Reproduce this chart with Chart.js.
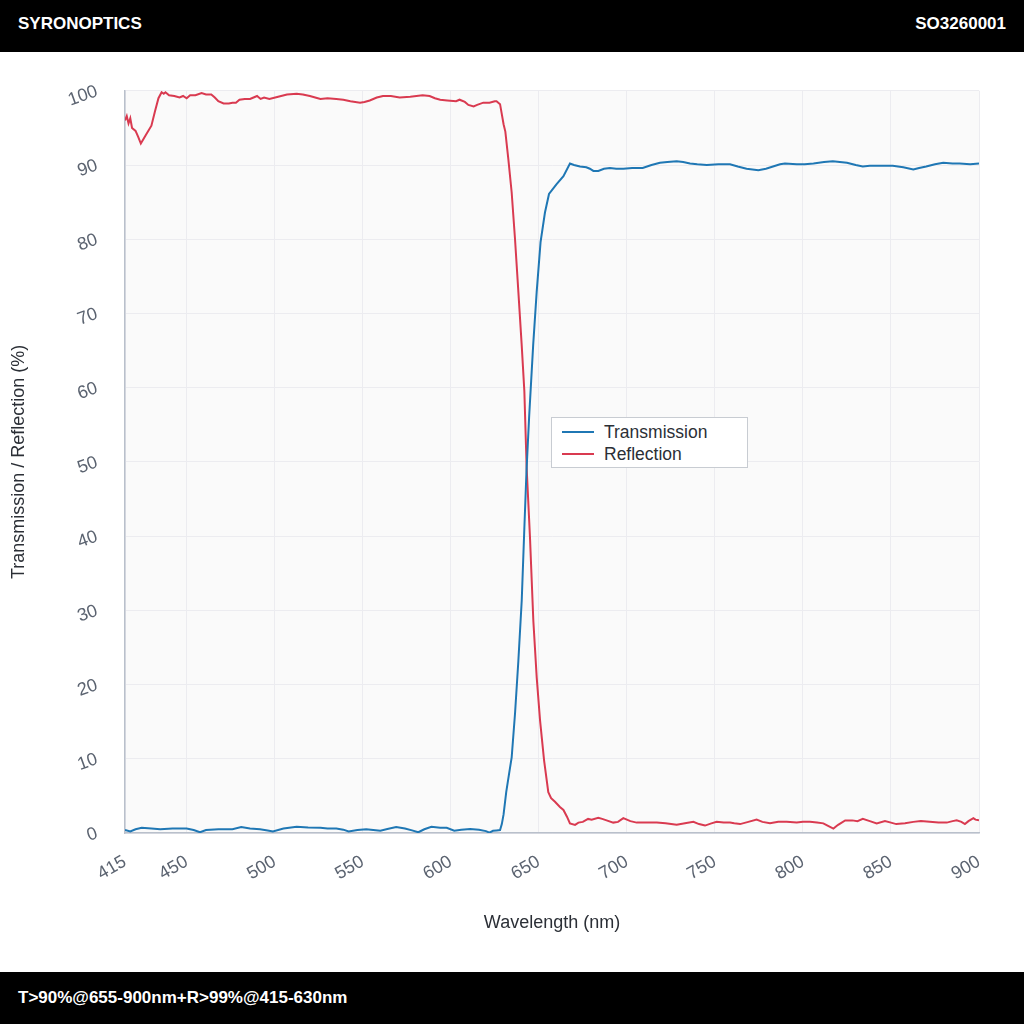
<!DOCTYPE html>
<html lang="en">
<head>
    <meta charset="UTF-8">
    <title>SYRONOPTICS SO3260001</title>
    <script src="https://cdn.jsdelivr.net/npm/chart.js"></script>
    <style>
        html, body {
            margin: 0;
            padding: 0;
            width: 1024px;
            height: 1024px;
            background: #fff;
            font-family: "Liberation Sans", Arial, sans-serif;
            overflow: hidden;
        }
        .bar {
            position: absolute;
            left: 0;
            width: 1024px;
            height: 52px;
            background: #000;
            color: #fff;
            font-weight: bold;
            font-size: 17px;
        }
        #header { top: 0; line-height: 47px; }
        #footer { top: 972px; line-height: 52px; }
        .bar .l { position: absolute; left: 18px; }
        .bar .r { position: absolute; right: 18px; }
        #chartBox {
            position: absolute;
            left: 0;
            top: 52px;
            width: 1024px;
            height: 920px;
        }
        #legend {
            position: absolute;
            left: 551px;
            top: 417px;
            width: 195px;
            height: 49px;
            background: #fff;
            border: 1px solid #c8ccd2;
            font-size: 17.5px;
            color: #2b2f36;
        }
        .item {
            position: absolute;
            left: 10px;
            height: 22px;
            line-height: 22px;
        }
        .item span.swatch {
            position: absolute;
            left: 0;
            top: 10px;
            width: 32px;
            height: 2px;
        }
        .item span.txt {
            position: absolute;
            left: 42px;
            white-space: nowrap;
        }
    </style>
</head>
<body>
    <div id="header" class="bar"><span class="l">SYRONOPTICS</span><span class="r">SO3260001</span></div>
    <div id="chartBox"><canvas id="specChart"></canvas></div>
    <div id="legend"></div>
    <div id="footer" class="bar"><span class="l">T&gt;90%@655-900nm+R&gt;99%@415-630nm</span></div>

    <script>
        // tick marks on the wavelength axis
        const xTicks = [415, 450, 500, 550, 600, 650, 700, 750, 800, 850, 900];

        // Transmission (%)
        const transWl = [415, 418, 421, 424.5, 430, 435, 442, 450, 454, 457.6, 461, 468, 476, 481, 486, 491.7, 496, 499, 505, 512.5,
            519, 526, 530, 535, 539, 542, 547, 552, 556, 560, 564, 569, 574, 578, 581.6, 585, 589, 594, 597.7, 602,
            606, 611, 616, 620, 622, 624, 626, 628, 629, 630, 631.5, 633, 634.6, 636.5, 638.4, 640.3, 641.8, 643, 644.5, 646.8,
            648.8, 651, 653.5, 655.8, 660, 664, 667.7, 670, 673.4, 677, 679, 681, 683.8, 687, 690.4, 694, 698, 703, 709, 714,
            718.8, 723, 728.3, 732, 735.9, 740, 745.4, 752, 758.6, 763, 768, 774.7, 779, 783, 787, 789.8, 796.5, 801, 806, 812,
            817, 821, 825, 830, 834, 838, 843.8, 851, 857, 862.7, 866, 870, 875, 879.7, 885, 889, 895, 900];
        const transVal = [0.4, 0.2, 0.5, 0.7, 0.6, 0.5, 0.6, 0.6, 0.4, 0.1, 0.4, 0.5, 0.5, 0.8, 0.6, 0.5, 0.35, 0.2, 0.6, 0.85,
            0.75, 0.7, 0.6, 0.6, 0.45, 0.2, 0.4, 0.5, 0.4, 0.3, 0.55, 0.8, 0.6, 0.35, 0.1, 0.5, 0.85, 0.7, 0.7, 0.3,
            0.45, 0.55, 0.45, 0.25, 0.05, 0.3, 0.35, 0.4, 1.2, 2.5, 5.5, 7.8, 10.2, 16.1, 23.2, 31.3, 41.1, 48.7, 56, 65.7,
            72.9, 79.6, 83.6, 86.1, 87.4, 88.5, 90.2, 90.0, 89.8, 89.7, 89.5, 89.2, 89.2, 89.5, 89.6, 89.5, 89.5, 89.6, 89.6, 90.0,
            90.3, 90.4, 90.5, 90.4, 90.2, 90.1, 90.0, 90.1, 90.1, 89.8, 89.5, 89.3, 89.5, 89.8, 90.1, 90.2, 90.1, 90.1, 90.2, 90.4,
            90.5, 90.4, 90.3, 90.0, 89.8, 89.9, 89.9, 89.9, 89.7, 89.4, 89.6, 89.8, 90.1, 90.3, 90.2, 90.2, 90.1, 90.2];

        // Reflection (%)
        const reflWl = [415, 416, 417, 418, 419, 421, 422.5, 424, 427, 430, 432, 434, 435.8, 437, 438, 440, 443, 446, 448, 450,
            452, 455, 458.5, 461, 464, 466, 468, 471, 474, 476, 478, 480, 483, 486, 488, 490, 492, 494, 497, 502,
            507, 512.5, 516, 520, 523, 526, 530, 535, 539, 543, 548.5, 551, 554, 558, 561.5, 566, 571, 577, 584, 588,
            591, 594, 598, 603, 605, 608, 610, 613, 615, 618.5, 622, 625, 626, 628, 630, 631, 632.7, 634.6, 636.5, 638.4,
            640.3, 641.8, 643.1, 645, 646.9, 648.8, 650.7, 653, 655.4, 657, 659.2, 662, 664, 666, 667.7, 670.6, 672.5, 675, 678, 680,
            683.8, 686, 688.5, 692.3, 695, 698, 702, 705.6, 711, 717, 722, 728.3, 733, 737.8, 741, 744.4, 748, 751, 755, 758.6,
            761, 764.3, 769, 773.7, 777, 781.3, 786, 790.8, 796.5, 800, 804, 808, 811.6, 814, 817.3, 820, 824, 828, 831, 834,
            838, 841.9, 846.6, 850, 853, 858, 862.7, 867, 872, 877, 881.7, 885, 887.3, 890, 892, 894, 896.8, 898, 900];
        const reflVal = [96.0, 96.6, 95.6, 96.3, 95.0, 94.6, 93.8, 92.9, 94.1, 95.3, 97.2, 99.0, 99.8, 99.6, 99.8, 99.4, 99.3, 99.1, 99.3, 99.0,
            99.4, 99.4, 99.7, 99.5, 99.5, 99.1, 98.6, 98.3, 98.3, 98.4, 98.4, 98.8, 98.9, 98.9, 99.1, 99.3, 98.9, 99.1, 98.9, 99.2,
            99.5, 99.6, 99.5, 99.3, 99.1, 98.9, 99.0, 98.9, 98.8, 98.6, 98.4, 98.5, 98.7, 99.1, 99.3, 99.3, 99.1, 99.2, 99.4, 99.3,
            99.0, 98.8, 98.7, 98.6, 98.8, 98.5, 98.1, 97.9, 98.1, 98.4, 98.4, 98.6, 98.6, 98.2, 95.5, 94.5, 90.8, 86.3, 80.0, 72.9,
            65.7, 59.5, 49.2, 39.8, 28.6, 21.0, 15.2, 9.8, 5.5, 4.7, 4.2, 3.5, 3.1, 2.2, 1.3, 1.1, 1.4, 1.5, 1.9, 1.8,
            2.05, 1.9, 1.7, 1.4, 1.5, 2.0, 1.6, 1.4, 1.4, 1.4, 1.3, 1.1, 1.3, 1.5, 1.2, 1.0, 1.3, 1.5, 1.4, 1.4,
            1.3, 1.2, 1.5, 1.8, 1.5, 1.3, 1.5, 1.5, 1.4, 1.5, 1.5, 1.4, 1.3, 1.0, 0.6, 1.1, 1.7, 1.7, 1.6, 1.9,
            1.6, 1.3, 1.6, 1.4, 1.2, 1.3, 1.5, 1.6, 1.5, 1.4, 1.4, 1.6, 1.7, 1.5, 1.2, 1.6, 2.0, 1.8, 1.7];

        const seriesNames = ['Transmission', 'Reflection'];
        const seriesColors = ['#1f77b4', '#d93a50'];

        function toPoints(xs, ys) {
            return xs.map((x, i) => ({ x: x, y: ys[i] }));
        }

        // light grey plot background
        const plotBg = {
            id: 'plotBg',
            beforeDraw(chart) {
                const a = chart.chartArea;
                const ctx = chart.ctx;
                ctx.save();
                ctx.fillStyle = '#fafafa';
                ctx.fillRect(a.left, a.top, a.right - a.left, a.bottom - a.top);
                ctx.restore();
            }
        };

        const tickFont = { family: '"Liberation Sans", Arial, sans-serif', size: 18 };
        const titleFont = { family: '"Liberation Sans", Arial, sans-serif', size: 18 };

        let ctx = document.getElementById('specChart').getContext('2d');
        let chart = new Chart(ctx, {
            type: 'line',
            data: {
                datasets: [{
                    label: seriesNames[0],
                    data: toPoints(transWl, transVal),
                    borderColor: seriesColors[0],
                    backgroundColor: seriesColors[0],
                    borderWidth: 2,
                    pointRadius: 0,
                    fill: false
                }, {
                    label: seriesNames[1],
                    data: toPoints(reflWl, reflVal),
                    borderColor: seriesColors[1],
                    backgroundColor: seriesColors[1],
                    borderWidth: 2,
                    pointRadius: 0,
                    fill: false
                }]
            },
            plugins: [plotBg],
            options: {
                responsive: true,
                maintainAspectRatio: false,
                animation: false,
                layout: {
                    padding: { top: 36, right: 45, left: 0, bottom: 34 }
                },
                plugins: {
                    legend: { display: false },
                    tooltip: { enabled: false }
                },
                scales: {
                    x: {
                        type: 'linear',
                        min: 415,
                        max: 900,
                        afterBuildTicks: (scale) => {
                            scale.ticks = xTicks.map(v => ({ value: v }));
                        },
                        afterFit: (scale) => {
                            scale.height = 105;
                        },
                        ticks: {
                            minRotation: 30,
                            maxRotation: 30,
                            padding: 18,
                            color: '#5b6370',
                            font: tickFont
                        },
                        grid: {
                            color: '#ececf0',
                            drawTicks: false
                        },
                        border: { color: '#b9c0cb', width: 1.5 },
                        title: {
                            display: true,
                            text: 'Wavelength (nm)',
                            color: '#2b2f36',
                            font: titleFont,
                            padding: { top: 4, bottom: 4 }
                        }
                    },
                    y: {
                        min: 0,
                        max: 100,
                        afterFit: (scale) => {
                            scale.width = 125;
                        },
                        ticks: {
                            stepSize: 10,
                            minRotation: 20,
                            maxRotation: 20,
                            padding: 28,
                            color: '#5b6370',
                            font: tickFont
                        },
                        grid: {
                            color: '#ececf0',
                            drawTicks: false
                        },
                        border: { color: '#b9c0cb', width: 1.5 },
                        title: {
                            display: true,
                            text: 'Transmission / Reflection (%)',
                            color: '#2b2f36',
                            font: titleFont,
                            padding: { top: 8, bottom: 4 }
                        }
                    }
                }
            }
        });

        // legend box inside the plot
        let legend = document.getElementById('legend');
        chart.data.datasets.forEach((ds, i) => {
            let row = document.createElement('div');
            row.className = 'item';
            row.style.top = (3 + i * 22) + 'px';
            row.innerHTML = '<span class="swatch" style="background:' + ds.borderColor + '"></span><span class="txt">' + ds.label + '</span>';
            legend.appendChild(row);
        });
    </script>
</body>
</html>
